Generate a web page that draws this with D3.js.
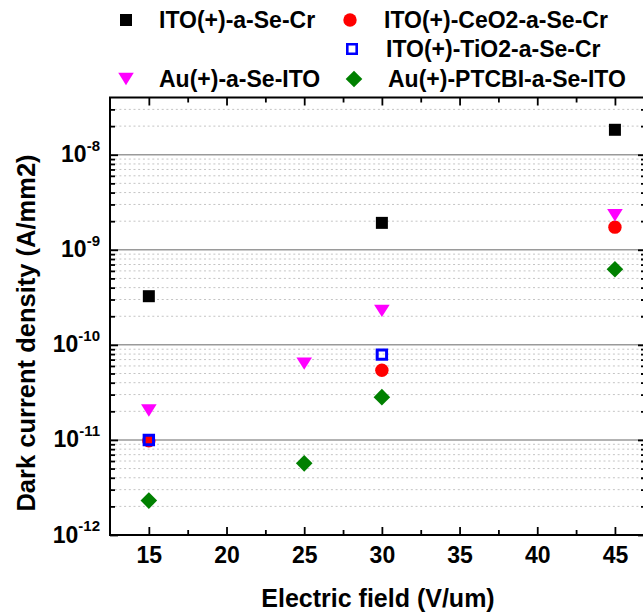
<!DOCTYPE html>
<html>
<head>
<meta charset="utf-8">
<script src="https://cdn.jsdelivr.net/npm/d3@7"></script>
<style>
  body { margin: 0; background: #fff; }
  text { font-family: "Liberation Sans", Arial, sans-serif; font-weight: bold; fill: #000; }
</style>
</head>
<body>
<svg id="chart" width="643" height="615"></svg>
<script>
// legend names, in drawing order
var seriesNames = ["ITO(+)-a-Se-Cr", "ITO(+)-CeO2-a-Se-Cr", "ITO(+)-TiO2-a-Se-Cr",
                   "Au(+)-a-Se-ITO", "Au(+)-PTCBI-a-Se-ITO"];

// electric field (V/um) and dark current density (A/mm2), one pair per series
var itoCrX = [15, 30, 45];
var itoCrY = [3.25e-10, 1.92e-9, 1.83e-8];
var ceo2X = [15, 30, 45];
var ceo2Y = [9.8e-12, 5.4e-11, 1.73e-9];
var tio2X = [15, 30];
var tio2Y = [1.0e-11, 7.9e-11];
var auX = [15, 25, 30, 45];
var auY = [2.04e-11, 6.35e-11, 2.28e-10, 2.31e-9];
var ptcbiX = [15, 25, 30, 45];
var ptcbiY = [2.3e-12, 5.67e-12, 2.82e-11, 6.24e-10];

// tick labels
var xTicks = [15, 20, 25, 30, 35, 40, 45];
var yTickExp = [-12, -11, -10, -9, -8];

var seriesX = [itoCrX, ceo2X, tio2X, auX, ptcbiX];
var seriesY = [itoCrY, ceo2Y, tio2Y, auY, ptcbiY];

// marker styles
var styles = [
  {shape: "square",  fill: "#000000", stroke: "none"},
  {shape: "circle",  fill: "#ff0000", stroke: "none"},
  {shape: "open",    fill: "none",    stroke: "#0000ff"},
  {shape: "tridown", fill: "#ff00ff", stroke: "none"},
  {shape: "diamond", fill: "#008000", stroke: "none"}
];

function shapePath(shape) {
  if (shape == "square") return "M-6,-6h12v12h-12Z";
  if (shape == "circle") { var r = 6.7; return "M" + r + ",0A" + r + "," + r + " 0 1 1 -" + r + ",0A" + r + "," + r + " 0 1 1 " + r + ",0Z"; }
  if (shape == "open") return "M-4.7,-4.7h9.4v9.4h-9.4Z";
  if (shape == "tridown") return "M-7.8,-6.2L7.8,-6.2L0,6.2Z";
  return "M0,-8.3L8.3,0L0,8.3L-8.3,0Z";
}

var svg = d3.select("#chart");

var pLeft = 110, pRight = 646, pTop = 97.5, pBottom = 535;

// set the ranges
var x = d3.scaleLinear().domain([12.5, 47]).range([pLeft, pRight]);
var y = d3.scaleLog().domain([1e-12, 4e-8]).range([pBottom, pTop]);

var yMajor = yTickExp.map(function(e) { return Math.pow(10, e); });
var yMinor = y.ticks().filter(function(v) {
  var m = v / Math.pow(10, Math.floor(Math.log10(v) + 1e-9));
  return Math.abs(m - 1) > 1e-6 && v < 4e-8;
});
var xMinor = d3.range(17.5, 47, 5);

// minor grid (dotted)
svg.append("g").selectAll("line")
  .data(yMinor).enter().append("line")
    .attr("x1", pLeft).attr("x2", pRight)
    .attr("y1", function(d) { return y(d); })
    .attr("y2", function(d) { return y(d); })
    .attr("stroke", "#c4c4c4")
    .attr("stroke-width", 1)
    .attr("stroke-dasharray", "2,2.7");

// major grid
svg.append("g").selectAll("line")
  .data(yMajor).enter().append("line")
    .attr("x1", pLeft).attr("x2", pRight)
    .attr("y1", function(d) { return y(d); })
    .attr("y2", function(d) { return y(d); })
    .attr("stroke", "#9a9a9a")
    .attr("stroke-width", 1.5);

// axes with inward ticks
function styleAxis(g) {
  g.select(".domain").remove();
  g.selectAll(".tick line").attr("stroke", "#000").attr("stroke-width", 1.8);
}

svg.append("g").attr("transform", "translate(0," + pBottom + ")")
  .call(d3.axisBottom(x).tickValues(xTicks).tickSize(-8).tickPadding(12).tickFormat(d3.format("d")))
  .call(styleAxis)
  .selectAll("text").style("font-size", "23px").attr("fill", "#000");
svg.append("g").attr("transform", "translate(0," + pBottom + ")")
  .call(d3.axisBottom(x).tickValues(xMinor).tickSize(-5).tickFormat(""))
  .call(styleAxis);
svg.append("g").attr("transform", "translate(0," + pTop + ")")
  .call(d3.axisTop(x).tickValues(xTicks).tickSize(-8).tickFormat(""))
  .call(styleAxis);
svg.append("g").attr("transform", "translate(0," + pTop + ")")
  .call(d3.axisTop(x).tickValues(xMinor).tickSize(-5).tickFormat(""))
  .call(styleAxis);

svg.append("g").attr("transform", "translate(" + pLeft + ",0)")
  .call(d3.axisLeft(y).tickValues(yMajor).tickSize(-8).tickFormat(""))
  .call(styleAxis);
svg.append("g").attr("transform", "translate(" + pLeft + ",0)")
  .call(d3.axisLeft(y).tickValues(yMinor).tickSize(-5).tickFormat(""))
  .call(styleAxis);
svg.append("g").attr("transform", "translate(" + pRight + ",0)")
  .call(d3.axisRight(y).tickValues(yMajor).tickSize(-8).tickFormat(""))
  .call(styleAxis);
svg.append("g").attr("transform", "translate(" + pRight + ",0)")
  .call(d3.axisRight(y).tickValues(yMinor).tickSize(-5).tickFormat(""))
  .call(styleAxis);

// frame
svg.append("rect")
  .attr("x", pLeft).attr("y", pTop)
  .attr("width", pRight - pLeft).attr("height", pBottom - pTop)
  .attr("fill", "none").attr("stroke", "#000").attr("stroke-width", 2);

// y tick labels 10^n
var yl = svg.append("g").selectAll("text")
  .data(yTickExp).enter().append("text")
    .attr("x", 100)
    .attr("y", function(d) { return y(Math.pow(10, d)) + 7.5; })
    .attr("text-anchor", "end")
    .style("font-size", "23px");
yl.append("tspan").text("10");
yl.append("tspan")
  .attr("dy", -11.5)
  .style("font-size", "15px")
  .text(function(d) { return String(d); });

// axis titles
svg.append("text")
  .attr("x", 378).attr("y", 607)
  .attr("text-anchor", "middle")
  .style("font-size", "25px")
  .text("Electric field (V/um)");

svg.append("text")
  .attr("transform", "translate(35,333) rotate(-90)")
  .attr("text-anchor", "middle")
  .style("font-size", "25.5px")
  .text("Dark current density (A/mm2)");

// data points
seriesX.forEach(function(xs, i) {
  var st = styles[i];
  svg.append("g").selectAll("path")
    .data(xs.map(function(v, j) { return [v, seriesY[i][j]]; }))
    .enter().append("path")
      .attr("transform", function(d) { return "translate(" + x(d[0]) + "," + y(d[1]) + ")"; })
      .attr("d", shapePath(st.shape))
      .attr("fill", st.fill)
      .attr("stroke", st.stroke)
      .attr("stroke-width", 3);
});

// legend
var legendPos = [[126, 20], [350, 20], [352, 49], [126, 79], [354, 79]];
var legend = svg.append("g").selectAll("g")
  .data(seriesNames).enter().append("g")
    .attr("transform", function(d, i) { return "translate(" + legendPos[i][0] + "," + legendPos[i][1] + ")"; });
legend.append("path")
  .attr("d", function(d, i) { return shapePath(styles[i].shape); })
  .attr("fill", function(d, i) { return styles[i].fill; })
  .attr("stroke", function(d, i) { return styles[i].stroke; })
  .attr("stroke-width", 2.6);
legend.append("text")
  .attr("x", function(d, i) { return i == 0 || i == 3 ? 33 : 34; })
  .attr("y", 7.8)
  .style("font-size", "23px")
  .text(function(d) { return d; });
</script>
</body>
</html>
